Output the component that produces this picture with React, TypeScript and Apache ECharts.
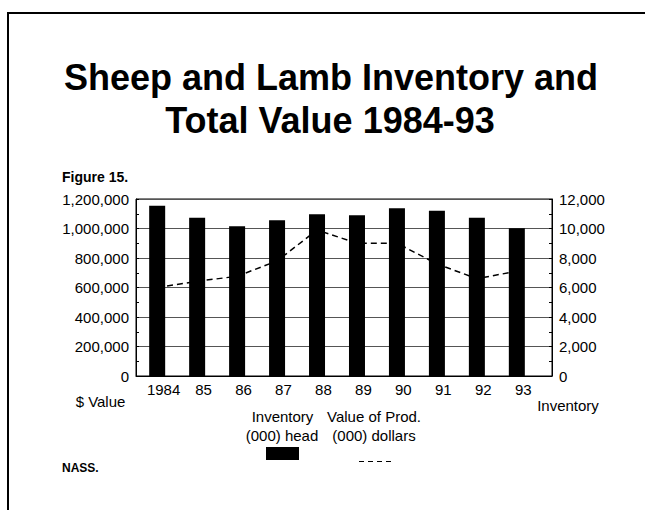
import React, { useEffect, useRef } from 'react';
import * as echarts from 'echarts';

const years = ['1984', '85', '86', '87', '88', '89', '90', '91', '92', '93'];
// Inventory, (000) head — right axis
const inventoryHead = [11550, 10730, 10150, 10560, 10960, 10890, 11370, 11210, 10730, 10010];
// Value of production, (000) dollars — left axis
const productionValue = [600000, 642000, 676000, 780000, 990000, 900000, 900000, 760000, 660000, 710000];

const valueAxisMax = 1200000;
const valueAxisStep = 200000;
const inventoryAxisMax = 12000;
const inventoryAxisStep = 2000;

const FONT = '"Liberation Sans", Arial, Helvetica, sans-serif';
const LABEL_SHIFT = 0.16;

export default function App() {
  const ref = useRef<HTMLDivElement>(null);

  useEffect(() => {
    if (!ref.current) return;
    const chart = echarts.init(ref.current, null, { renderer: 'svg' });

    const txt = (x: number, y: number, text: string, size: number, weight: string, align: string) => ({
      type: 'text',
      x,
      y,
      silent: true,
      style: {
        text,
        fontSize: size,
        fontWeight: weight,
        fontFamily: FONT,
        fill: '#000',
        align,
        verticalAlign: 'middle',
      },
    });

    const yAxisCommon = {
      type: 'value',
      axisLine: { show: true, onZero: false, lineStyle: { color: '#000', width: 1 } },
      axisTick: { show: true, inside: true, length: 3, lineStyle: { color: '#000' } },
      minorTick: { show: true, splitNumber: 2, length: 3, lineStyle: { color: '#000' } },
      axisLabel: {
        formatter: (v: number) => v.toLocaleString('en-US'),
        color: '#000',
        fontSize: 15,
        fontFamily: FONT,
        margin: 7,
      },
    };

    chart.setOption({
      animation: false,
      backgroundColor: '#fff',
      textStyle: { fontFamily: FONT },
      grid: {
        left: 136,
        right: 93,
        top: 199,
        bottom: 134,
        show: true,
        borderColor: '#000',
        borderWidth: 1,
        backgroundColor: 'transparent',
      },
      xAxis: {
        type: 'value',
        min: -0.53,
        max: 9.88,
        splitLine: { show: false },
        axisLine: { show: true, onZero: false, lineStyle: { color: '#000', width: 1 } },
        axisTick: { show: false },
        axisLabel: {
          customValues: years.map((_, i) => i + LABEL_SHIFT),
          formatter: (v: number) => years[Math.round(v - LABEL_SHIFT)] ?? '',
          color: '#000',
          fontSize: 15,
          fontFamily: FONT,
          margin: 6,
        },
      },
      yAxis: [
        {
          ...yAxisCommon,
          position: 'left',
          min: 0,
          max: valueAxisMax,
          interval: valueAxisStep,
          splitLine: { show: true, lineStyle: { color: '#555', width: 1 } },
        },
        {
          ...yAxisCommon,
          position: 'right',
          min: 0,
          max: inventoryAxisMax,
          interval: inventoryAxisStep,
          splitLine: { show: false },
        },
      ],
      series: [
        {
          name: 'Value of Prod. (000) dollars',
          type: 'line',
          yAxisIndex: 0,
          data: productionValue.map((v, i) => [i, v]),
          symbol: 'none',
          lineStyle: { color: '#000', width: 1.5, type: [6, 4] },
          z: 1,
        },
        {
          name: 'Inventory (000) head',
          type: 'bar',
          yAxisIndex: 1,
          data: inventoryHead.map((v, i) => [i, v]),
          barWidth: 16,
          itemStyle: { color: '#000' },
          z: 2,
        },
      ],
      graphic: [
        {
          type: 'rect',
          silent: true,
          shape: { x: 8, y: 13, width: 700, height: 600 },
          style: { fill: 'none', stroke: '#000', lineWidth: 2 },
        },
        txt(331, 77, 'Sheep and Lamb Inventory and', 36, 'bold', 'center'),
        txt(330, 120, 'Total Value 1984-93', 36, 'bold', 'center'),
        txt(62, 177, 'Figure 15.', 14, 'bold', 'left'),
        txt(100.5, 401.5, '$ Value', 15, 'normal', 'center'),
        txt(568, 405.5, 'Inventory', 15, 'normal', 'center'),
        txt(282.5, 416, 'Inventory', 15, 'normal', 'center'),
        txt(282, 435, '(000) head', 15, 'normal', 'center'),
        txt(374, 416, 'Value of Prod.', 15, 'normal', 'center'),
        txt(374, 435, '(000) dollars', 15, 'normal', 'center'),
        {
          type: 'rect',
          silent: true,
          shape: { x: 266, y: 447, width: 33, height: 13 },
          style: { fill: '#000' },
        },
        {
          type: 'line',
          silent: true,
          shape: { x1: 359, y1: 461.5, x2: 392, y2: 461.5 },
          style: { stroke: '#000', lineWidth: 1, lineDash: [5, 4] },
        },
        txt(62, 468, 'NASS.', 12, 'bold', 'left'),
      ],
    });

    return () => chart.dispose();
  }, []);

  return (
    <div
      ref={ref}
      style={{ position: 'fixed', left: 0, top: 0, width: 645, height: 510 }}
    />
  );
}
